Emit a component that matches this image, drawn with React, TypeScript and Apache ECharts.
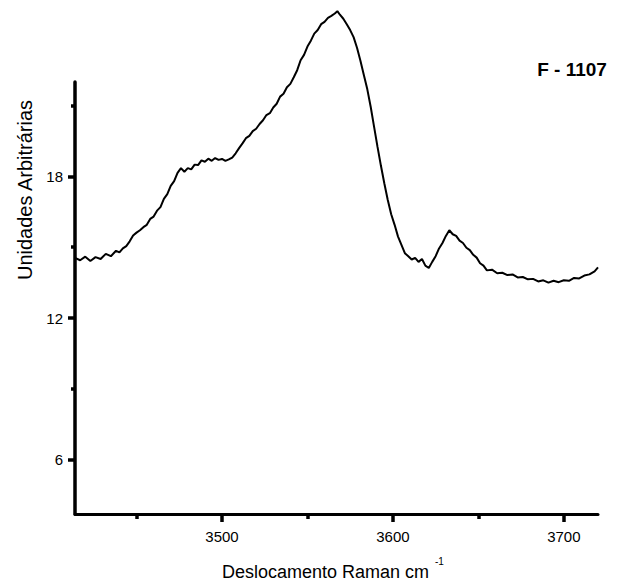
import React, { useEffect, useRef } from "react";
import * as echarts from "echarts";

// Raman shift (cm-1) and intensity (arbitrary units)
const ramanShift = [
  3414, 3417, 3420, 3423, 3426, 3429, 3432, 3435, 3438, 3440, 3442, 3444, 3446, 3448, 3450,
  3452, 3454, 3456, 3458, 3460, 3462, 3464, 3466, 3468, 3470, 3472, 3474, 3476, 3478, 3480,
  3482, 3484, 3486, 3488, 3490, 3492, 3494, 3496, 3498, 3500, 3502, 3504, 3506, 3508, 3510,
  3512, 3514, 3516, 3518, 3520, 3522, 3524, 3526, 3528, 3530, 3532, 3534, 3536, 3538, 3540,
  3542, 3544, 3546, 3548, 3550, 3552, 3554, 3556, 3558, 3560, 3562, 3564, 3566, 3567.5, 3569,
  3571, 3573, 3575, 3577, 3579, 3581, 3583, 3585, 3587, 3589, 3591, 3593, 3595, 3597, 3599,
  3601, 3603, 3605, 3607, 3609, 3611, 3613, 3615, 3617, 3619, 3621, 3623, 3625, 3627, 3629,
  3631, 3633, 3635, 3637, 3639, 3641, 3643, 3645, 3647, 3649, 3651, 3653, 3655, 3658, 3661,
  3664, 3667, 3670, 3673, 3676, 3679, 3682, 3685, 3688, 3691, 3694, 3697, 3700, 3703, 3706,
  3709, 3712, 3715, 3718, 3720,
];
const intensity = [
  14.55, 14.45, 14.6, 14.42, 14.58, 14.5, 14.72, 14.62, 14.85, 14.78, 14.95, 15.05, 15.25, 15.5, 15.62,
  15.72, 15.85, 15.95, 16.2, 16.3, 16.55, 16.7, 17.05, 17.25, 17.6, 17.8, 18.15, 18.35, 18.2, 18.35,
  18.3, 18.5, 18.48, 18.68, 18.62, 18.75, 18.66, 18.78, 18.7, 18.74, 18.66, 18.72, 18.8, 18.98, 19.2,
  19.4, 19.62, 19.72, 19.92, 20.02, 20.22, 20.38, 20.6, 20.68, 20.92, 21.08, 21.38, 21.5, 21.78, 21.92,
  22.2, 22.5, 22.92, 23.15, 23.5, 23.75, 24.05, 24.2, 24.45, 24.55, 24.72, 24.8, 24.9, 25.0, 24.85,
  24.68, 24.45, 24.2, 23.9, 23.45, 22.9, 22.3, 21.7, 20.95, 20.1, 19.25, 18.45, 17.7, 17.0, 16.4,
  15.95, 15.45, 15.1, 14.75, 14.62, 14.48, 14.55, 14.38, 14.5, 14.22, 14.12, 14.38, 14.62, 14.95, 15.18,
  15.48, 15.72, 15.55, 15.48, 15.28, 15.18, 14.98, 14.88, 14.68, 14.56, 14.32, 14.22, 14.02, 14.05, 13.9,
  13.92, 13.82, 13.85, 13.72, 13.74, 13.64, 13.66, 13.55, 13.6, 13.5, 13.58, 13.52, 13.6, 13.58, 13.7,
  13.68, 13.8, 13.85, 13.98, 14.15,
];

const xMajorTicks = [3500, 3600, 3700];
const xMinorTicks = [3450, 3550, 3650];
const yMajorTicks = [6, 12, 18];
const yMinorTicks = [9, 15, 21];

const xRange = [3414, 3720];
const yRange = [3.7, 22];

const sampleLabel = "F - 1107";
const xTitle = "Deslocamento Raman cm";
const xTitleSup = "-1";
const yTitle = "Unidades Arbitrárias";

export default function App() {
  const ref = useRef<HTMLDivElement>(null);

  useEffect(() => {
    document.body.style.margin = "0";
    const chart = echarts.init(ref.current!, null, { renderer: "svg" });
    const font = "Liberation Sans, Arial, sans-serif";
    const ink = "#000";

    const common = {
      type: "value" as const,
      splitLine: { show: false },
    };

    chart.setOption({
      animation: false,
      backgroundColor: "#fff",
      grid: { left: 75, right: 20, top: 82, bottom: 72, containLabel: false },
      xAxis: [
        {
          ...common,
          min: xRange[0],
          max: xRange[1],
          position: "bottom",
          axisLine: { show: true, onZero: false, lineStyle: { color: ink, width: 3 } },
          axisTick: { show: true, customValues: xMajorTicks, length: 8, lineStyle: { color: ink, width: 3.5 } },
          axisLabel: {
            show: true,
            customValues: xMajorTicks,
            formatter: (v: number) => String(v),
            margin: 15,
            color: ink,
            fontSize: 15,
            fontFamily: font,
          },
        },
        {
          ...common,
          min: xRange[0],
          max: xRange[1],
          position: "bottom",
          axisLine: { show: false, onZero: false },
          axisTick: { show: true, customValues: xMinorTicks, length: 5, lineStyle: { color: ink, width: 3.5 } },
          axisLabel: { show: false },
        },
      ],
      yAxis: [
        {
          ...common,
          min: yRange[0],
          max: yRange[1],
          position: "left",
          axisLine: { show: true, onZero: false, lineStyle: { color: ink, width: 3.5 } },
          axisTick: { show: true, customValues: yMajorTicks, length: 7, lineStyle: { color: ink, width: 3.5 } },
          axisLabel: {
            show: true,
            customValues: yMajorTicks,
            formatter: (v: number) => String(v),
            margin: 12,
            color: ink,
            fontSize: 15,
            fontFamily: font,
          },
        },
        {
          ...common,
          min: yRange[0],
          max: yRange[1],
          position: "left",
          axisLine: { show: false, onZero: false },
          axisTick: { show: true, customValues: yMinorTicks, length: 4, lineStyle: { color: ink, width: 3.5 } },
          axisLabel: { show: false },
        },
      ],
      series: [
        {
          type: "line",
          xAxisIndex: 0,
          yAxisIndex: 0,
          data: ramanShift.map((x, i) => [x, intensity[i]]),
          showSymbol: false,
          clip: false,
          smooth: false,
          lineStyle: { color: "#000", width: 2 },
        },
      ],
      graphic: [
        {
          type: "text",
          x: 25,
          y: 190,
          rotation: Math.PI / 2,
          style: {
            text: yTitle,
            fontSize: 20,
            fontFamily: font,
            fill: ink,
            align: "center",
            verticalAlign: "middle",
          },
        },
        {
          type: "text",
          x: 222,
          y: 572,
          style: {
            text: xTitle,
            fontSize: 18,
            fontFamily: font,
            fill: ink,
            align: "left",
            verticalAlign: "middle",
          },
        },
        {
          type: "text",
          x: 435,
          y: 561,
          style: {
            text: xTitleSup,
            fontSize: 10,
            fontFamily: font,
            fill: ink,
            align: "left",
            verticalAlign: "middle",
          },
        },
        {
          type: "text",
          x: 572,
          y: 69,
          style: {
            text: sampleLabel,
            fontSize: 19,
            fontWeight: "bold",
            fontFamily: font,
            fill: ink,
            align: "center",
            verticalAlign: "middle",
          },
        },
      ],
    });
    return () => chart.dispose();
  }, []);

  return (
    <div
      ref={ref}
      style={{ position: "absolute", left: 0, top: 0, width: 618, height: 586 }}
    />
  );
}
